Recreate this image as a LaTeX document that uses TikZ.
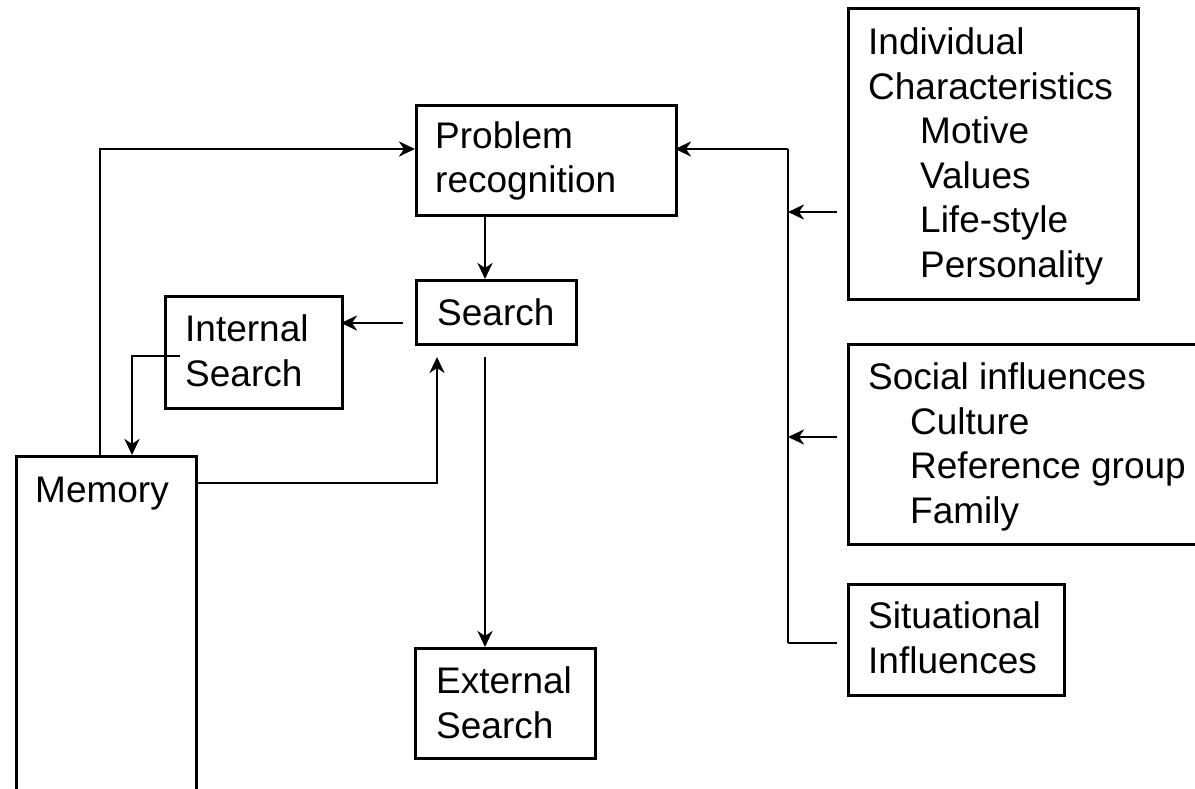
\documentclass[tikz,border=0pt]{standalone}
\usepackage{fontspec}
\setmainfont{Liberation Sans}
\usetikzlibrary{arrows.meta}
\tikzset{
  box/.style={draw, line width=3.2pt, inner sep=0pt, anchor=north west},
  txt/.style={inner sep=0pt, anchor=base west, align=left,
    font=\fontsize{37}{44.5}\selectfont},
  conn/.style={line width=2.8pt},
  arr/.style={conn, -{Stealth[length=16pt, width=15pt, inset=5pt]}}
}
\begin{document}
\begin{tikzpicture}[x=1pt,y=-1pt]
\clip (0,0) rectangle (1195,789);
\fill[white] (0,0) rectangle (1195,789);
% boxes
\node[box, minimum width=260pt, minimum height=110pt] (prob) at (415,104) {};
\node[box, minimum width=160pt, minimum height=64pt] (search) at (415,279) {};
\node[box, minimum width=177pt, minimum height=112pt] (internal) at (164,295) {};
\node[box, minimum width=180pt, minimum height=360pt] (memory) at (15,455) {};
\node[box, minimum width=180pt, minimum height=110pt] (external) at (414,647) {};
\node[box, minimum width=290pt, minimum height=291pt] (indiv) at (847,7) {};
\node[box, minimum width=400pt, minimum height=200pt] (social) at (847,343) {};
\node[box, minimum width=216pt, minimum height=111pt] (situ) at (847,583) {};
% texts (anchor at baseline of last line)
\node[txt] (probt) at (435,193) {Problem\\recognition};
\node[txt] (searcht) at (437,325) {Search};
\node[txt] (internalt) at (185,386) {Internal\\Search};
\node[txt] (memoryt) at (35,502) {Memory};
\node[txt] (externalt) at (436,738) {External\\Search};
\node[txt] (indivt) at (868,277) {Individual\\Characteristics\\\hspace*{52pt}Motive\\\hspace*{52pt}Values\\\hspace*{52pt}Life-style\\\hspace*{52pt}Personality};
\node[txt] (socialt) at (868,523) {Social influences\\\hspace*{42pt}Culture\\\hspace*{42pt}Reference group\\\hspace*{42pt}Family};
\node[txt] (situt) at (868,673) {Situational\\Influences};
% coordinates
\coordinate (memtop) at (100,455);
\coordinate (c1) at (100,149);
\coordinate (pl) at (415,149);
\coordinate (pb) at (485,214);
\coordinate (st) at (485,279);
\coordinate (sl) at (403,323);
\coordinate (ir) at (341,323);
\coordinate (iin) at (180,356);
\coordinate (c2) at (132,356);
\coordinate (mt2) at (132,455);
\coordinate (mr) at (195,483);
\coordinate (c3) at (437,483);
\coordinate (sb1) at (437,357);
\coordinate (sb2) at (485,357);
\coordinate (et) at (485,647);
\coordinate (bt) at (788,149);
\coordinate (pr) at (675,149);
\coordinate (bb) at (788,643);
\coordinate (i1) at (837,212);
\coordinate (i2) at (788,212);
\coordinate (s1) at (837,437);
\coordinate (s2) at (788,437);
\coordinate (t1) at (837,643);
% connectors
\draw[arr] (memtop) -- (c1) -- (pl);
\draw[arr] (pb) -- (st);
\draw[arr] (sl) -- (ir);
\draw[arr] (iin) -- (c2) -- (mt2);
\draw[arr] (mr) -- (c3) -- (sb1);
\draw[arr] (sb2) -- (et);
\draw[conn] (bb) -- (bt);
\draw[arr] (bt) -- (pr);
\draw[arr] (i1) -- (i2);
\draw[arr] (s1) -- (s2);
\draw[conn] (t1) -- (bb);
\end{tikzpicture}
\end{document}
